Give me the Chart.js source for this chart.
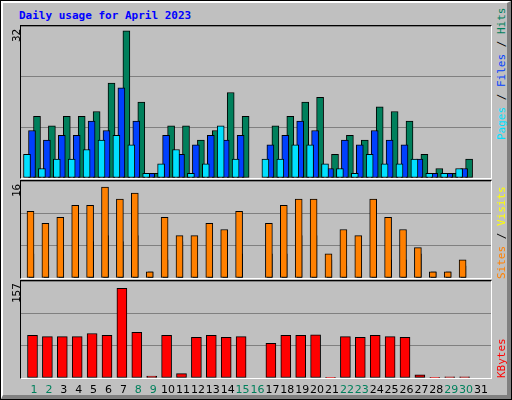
<!DOCTYPE html>
<html>
<head>
<meta charset="utf-8">
<script src="https://cdn.jsdelivr.net/npm/chart.js@4"></script>
<style>
    body { margin: 0; background: #c0c0c0; }
    #frame { position: relative; width: 512px; height: 400px; box-sizing: border-box; border: 1px solid #000; background: #c0c0c0; overflow: hidden; }
    #bevel { position: absolute; left: 0; top: 0; width: 510px; height: 398px; box-sizing: border-box; border-top: 2px solid #fff; border-left: 2px solid #fff; border-right: 4px solid #808080; border-bottom: 4px solid #808080; }
    .plot { position: absolute; }
    .edge { position: absolute; box-sizing: border-box; border-top: 1px solid #000; border-left: 1px solid #000; border-right: 1px solid #fff; border-bottom: 1px solid #fff; pointer-events: none; }
    .txt { position: absolute; font-family: "DejaVu Sans Mono", monospace; font-size: 11px; white-space: nowrap; }
    .rot { transform-origin: left top; transform: rotate(-90deg); }
    .day { position: absolute; top: 382px; width: 20px; margin-left: -10px; text-align: center; font-family: "DejaVu Sans", sans-serif; font-size: 11px; }
</style>
</head>
<body>
<div id="frame">
    <div id="bevel"></div>
    <div class="txt" style="left:18px;top:8px;color:#0000ff;font-weight:bold;">Daily usage for April 2023</div>

    <div class="plot" style="left:20px;top:25px;width:470px;height:152px;"><canvas id="top-chart"></canvas></div>
    <div class="plot" style="left:20px;top:180px;width:470px;height:97px;"><canvas id="mid-chart"></canvas></div>
    <div class="plot" style="left:20px;top:280px;width:470px;height:97px;"><canvas id="bot-chart"></canvas></div>
    <div class="edge" style="left:19px;top:24px;width:472px;height:154px;"></div>
    <div class="edge" style="left:19px;top:179px;width:472px;height:99px;"></div>
    <div class="edge" style="left:19px;top:279px;width:472px;height:99px;"></div>

    <div class="txt rot" style="left:9px;top:41px;">32</div>
    <div class="txt rot" style="left:9px;top:196px;">16</div>
    <div class="txt rot" style="left:9px;top:302px;">157</div>

    <div class="txt rot" style="left:494px;top:139px;"><span style="color:#00e0ff">Pages</span> / <span style="color:#0040ff">Files</span> / <span style="color:#00805c">Hits</span></div>
    <div class="txt rot" style="left:494px;top:278px;"><span style="color:#ff8000">Sites</span> / <span style="color:#ffff00">Visits</span></div>
    <div class="txt rot" style="left:494px;top:377px;color:#ff0000">KBytes</div>

    <div id="days"></div>
</div>

<script>
(function () {
    'use strict';

    var days = [];
    for (var i = 1; i <= 31; i++) { days.push(i); }
    var weekendDays = [1, 2, 8, 9, 15, 16, 22, 23, 29, 30];

    var hits   = [13, 11, 13, 13, 14, 20, 31, 16, 1, 11, 11, 8, 10, 18, 13, 0, 11, 13, 16, 17, 5, 9, 8, 15, 14, 12, 5, 2, 1, 4, 0];
    var files  = [10, 8, 9, 9, 12, 10, 19, 12, 1, 9, 5, 7, 9, 8, 9, 0, 7, 9, 12, 10, 2, 8, 7, 10, 8, 7, 4, 1, 1, 2, 0];
    var pages  = [5, 2, 4, 4, 6, 8, 9, 7, 1, 3, 6, 1, 3, 11, 4, 0, 4, 4, 7, 7, 3, 2, 1, 5, 3, 3, 4, 1, 1, 2, 0];
    var visits = [11, 9, 10, 12, 12, 15, 13, 14, 1, 10, 7, 7, 9, 8, 11, 0, 9, 12, 13, 13, 4, 8, 7, 13, 10, 8, 5, 1, 1, 3, 0];
    var sites  = [4, 2, 4, 4, 6, 7, 6, 7, 1, 3, 6, 1, 3, 2, 4, 0, 4, 4, 7, 7, 3, 2, 1, 5, 3, 3, 4, 1, 1, 2, 0];
    var kbytes = [69, 67, 67, 67, 72, 69, 145, 74, 3, 69, 7, 66, 69, 66, 67, 0, 56, 69, 69, 70, 1, 67, 66, 69, 67, 66, 5, 1, 2, 2, 0];

    var SPACING = 14.9;

    function points(values, offsetPx) {
        return values.map(function (v, i) {
            return { x: days[i] + offsetPx / SPACING, y: v };
        });
    }

    function bars(values, offsetPx, color, width, order) {
        return {
            data: points(values, offsetPx),
            backgroundColor: color,
            borderColor: '#000',
            borderWidth: 1,
            borderSkipped: false,
            barThickness: width,
            order: order,
        };
    }

    function createChart(id, datasets, max) {
        return new Chart(document.getElementById(id), {
            type: 'bar',
            data: { datasets: datasets },
            options: {
                responsive: true,
                maintainAspectRatio: false,
                animation: false,
                layout: { padding: 0 },
                plugins: { legend: { display: false }, tooltip: { enabled: false } },
                scales: {
                    x: {
                        type: 'linear',
                        min: 1 - 13 / SPACING,
                        max: 31 + 10 / SPACING,
                        offset: false,
                        display: false,
                    },
                    y: {
                        min: 0,
                        max: max,
                        ticks: { display: false, stepSize: max / 3 },
                        grid: { color: '#808080', drawTicks: false },
                        border: { display: false },
                        afterFit: function (scale) { scale.width = 0; },
                    },
                },
            },
        });
    }

    createChart('top-chart', [
        bars(hits, -4, '#00805c', 7, 3),
        bars(files, -2, '#0040ff', 7, 2),
        bars(pages, 0, '#00e0ff', 7, 1),
    ], 32);

    createChart('mid-chart', [
        bars(sites, -5, '#ffff00', 5, 2),
        bars(visits, 0, '#ff8000', 7, 1),
    ], 16);

    createChart('bot-chart', [
        bars(kbytes, -1.5, '#ff0000', 10, 1),
    ], 157);

    var holder = document.getElementById('days');
    days.forEach(function (d) {
        var el = document.createElement('div');
        el.className = 'day';
        el.style.left = (33 + (d - 1) * SPACING) + 'px';
        el.style.color = weekendDays.indexOf(d) >= 0 ? '#00805c' : '#000';
        el.textContent = d;
        holder.appendChild(el);
    });
})();
</script>
</body>
</html>
